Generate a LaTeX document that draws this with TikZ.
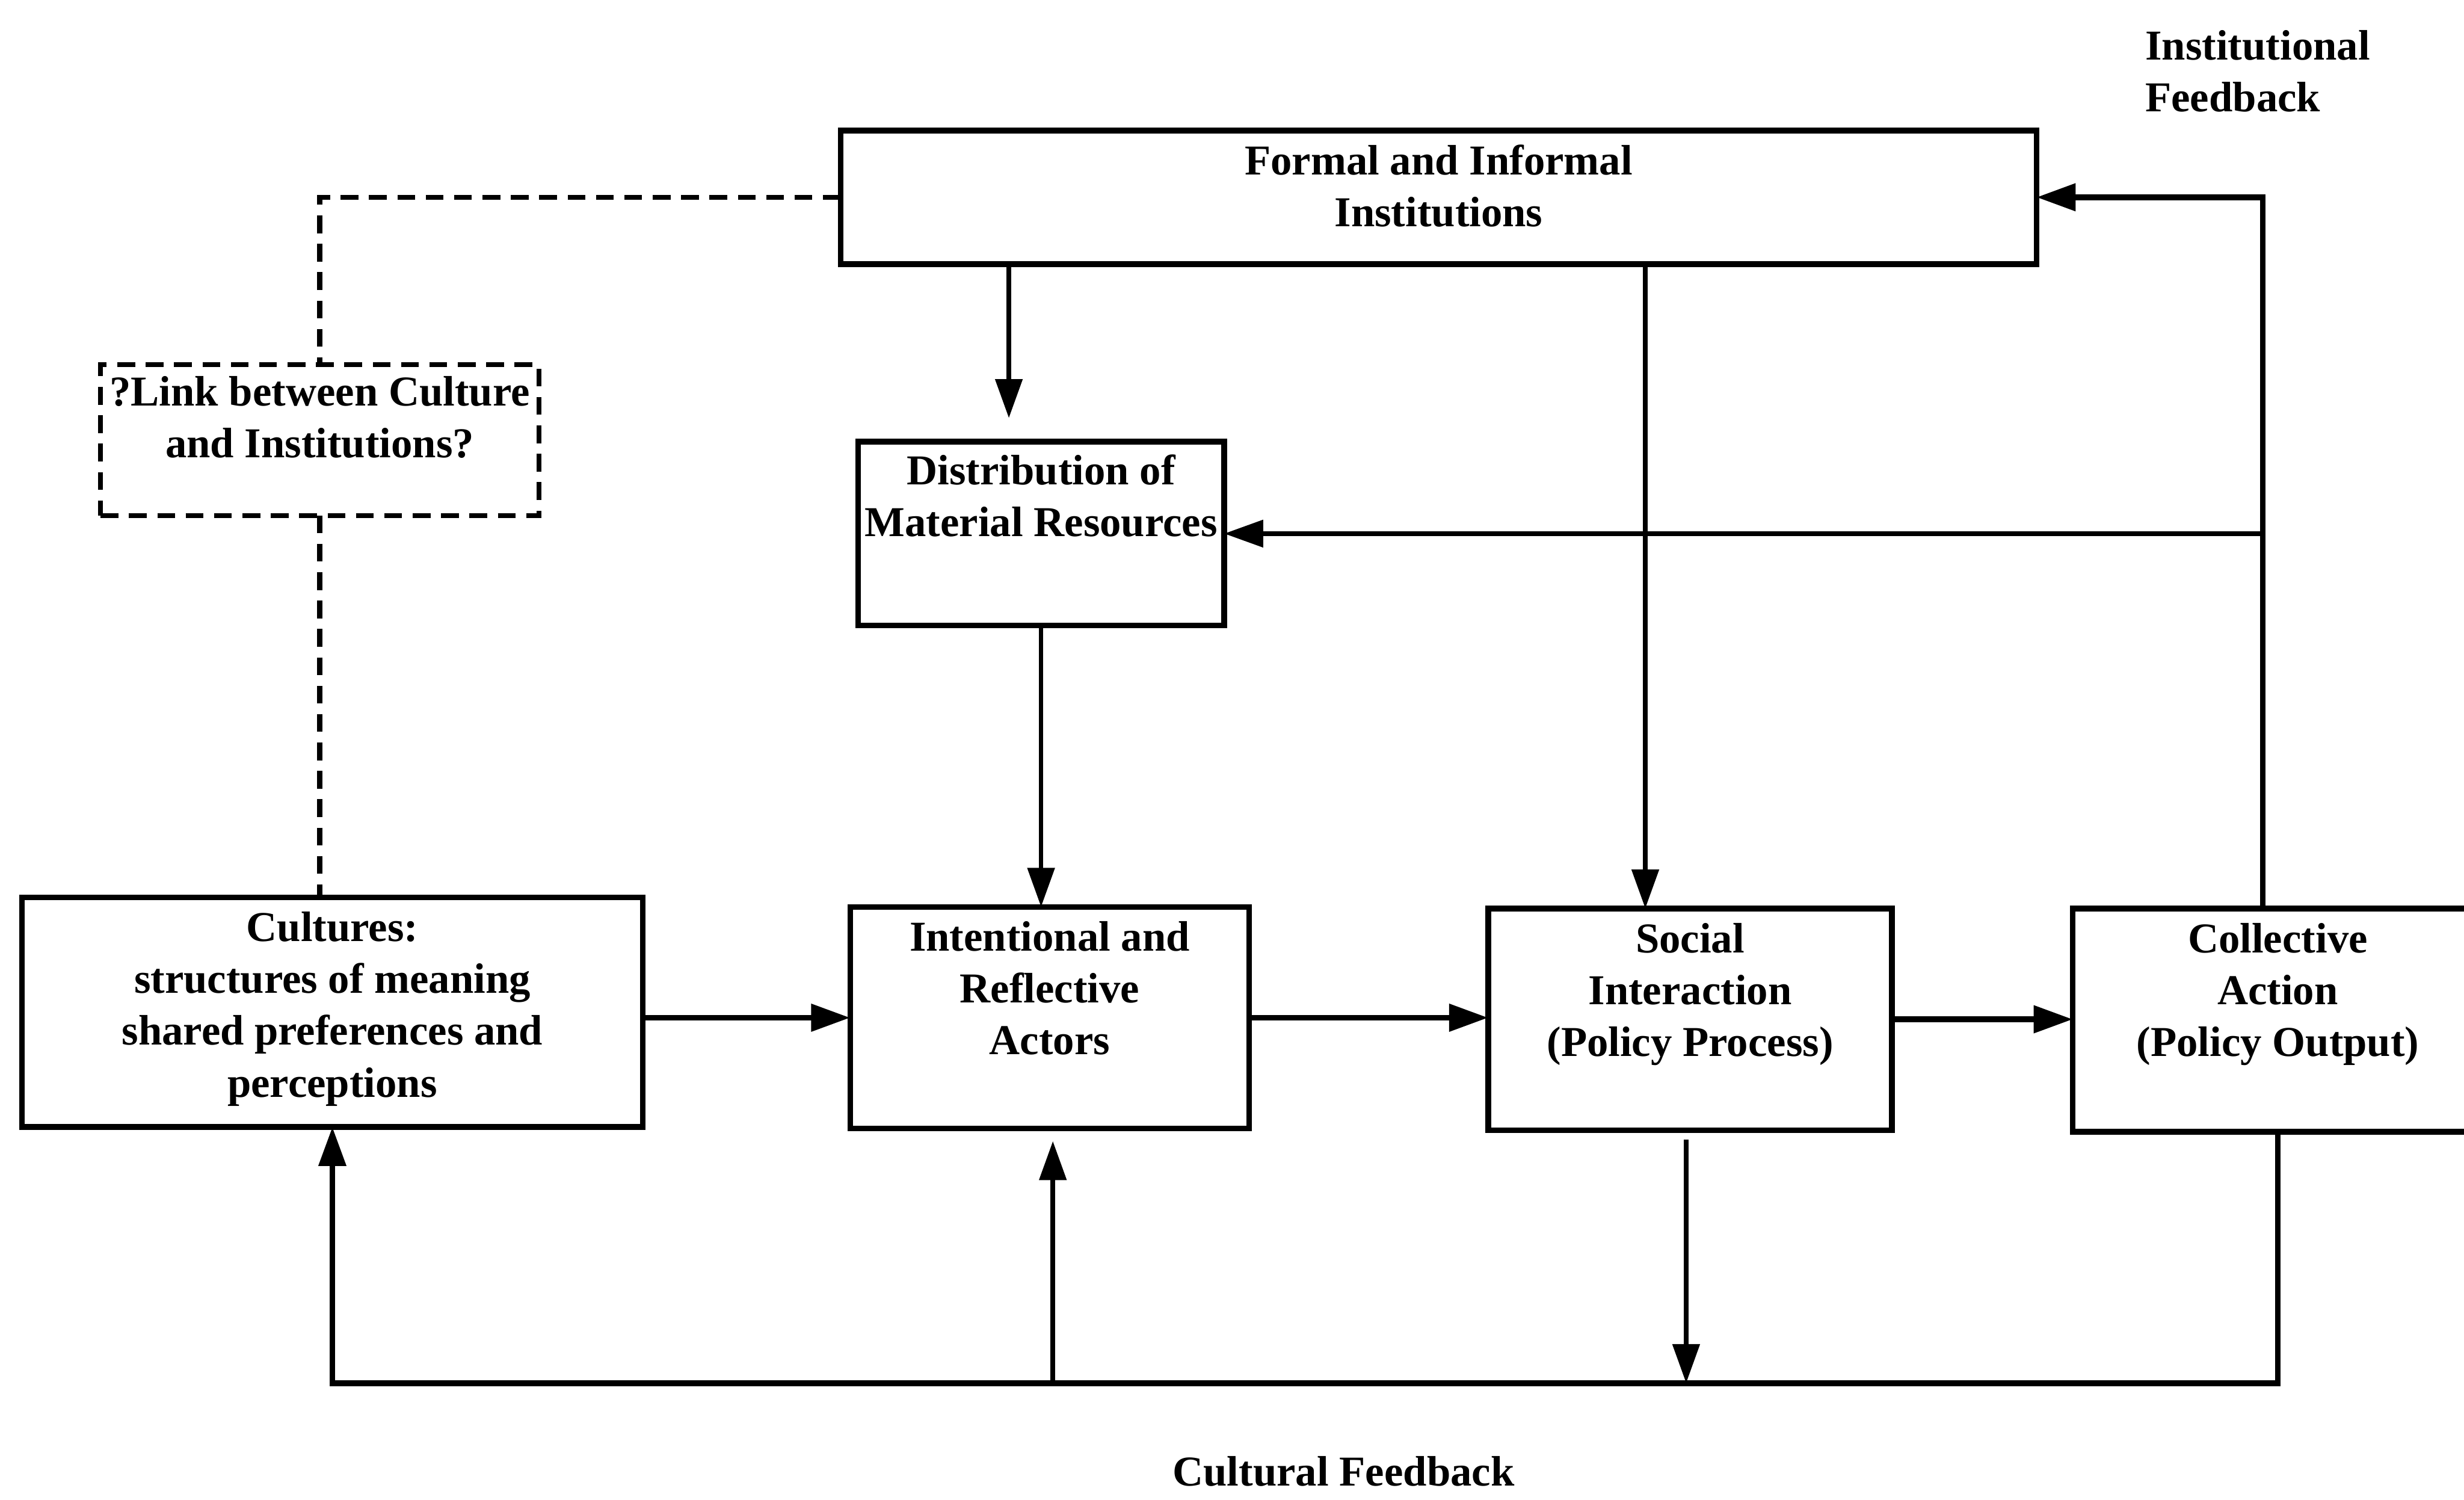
\documentclass[tikz,border=0pt]{standalone}
\usepackage{fontspec}
\setmainfont{Liberation Serif}
\usetikzlibrary{arrows.meta}
\begin{document}
\begin{tikzpicture}[x=0.03114cm,y=-0.03114cm,
  box/.style={draw,line width=3.2pt,inner sep=0pt,outer sep=0pt},
  dbox/.style={draw,line width=2.8pt,inner sep=0pt,outer sep=0pt,dash pattern=on 10pt off 6pt},
  txt/.style={font=\fontsize{24}{29.2}\selectfont\bfseries,align=center,inner sep=0pt},
  arr/.style={line width=2.6pt,-{Triangle[length=22pt,width=15pt]}},
  harr/.style={arr,line width=3.2pt},
  dlnk/.style={line width=2.8pt,dash pattern=on 10pt off 6pt}]
\useasboundingbox (0,0) rectangle (1568,954);

% boxes
\node[box,minimum width=23.70cm,minimum height=2.647cm] (form) at (915.5,125.5) {};
\node[dbox,minimum width=8.688cm,minimum height=2.989cm] (link) at (203.5,280) {};
\node[box,minimum width=7.256cm,minimum height=3.643cm] (dist) at (662.5,339.5) {};
\node[box,minimum width=12.30cm,minimum height=4.546cm] (cult) at (211.5,644) {};
\node[box,minimum width=7.910cm,minimum height=4.391cm] (act) at (668,647.5) {};
\node[box,minimum width=8.003cm,minimum height=4.391cm] (soc) at (1075.5,648.5) {};
\node[box,minimum width=8.128cm,minimum height=4.422cm] (coll) at (1449.5,649) {};

% box texts
\node[txt,anchor=north] (formT) at ([yshift=-0.28cm]form.north) {Formal and Informal\\Institutions};
\node[txt,anchor=north] (linkT) at ([yshift=-0.22cm]link.north) {?Link between Culture\\and Institutions?};
\node[txt,anchor=north] (distT) at ([yshift=-0.25cm]dist.north) {Distribution of\\Material Resources};
\node[txt,anchor=north] (cultT) at ([yshift=-0.28cm]cult.north) {Cultures:\\structures of meaning\\shared preferences and\\perceptions};
\node[txt,anchor=north] (actT) at ([yshift=-0.28cm]act.north) {Intentional and\\Reflective\\Actors};
\node[txt,anchor=north] (socT) at ([yshift=-0.28cm]soc.north) {Social\\Interaction\\(Policy Process)};
\node[txt,anchor=north] (collT) at ([yshift=-0.28cm]coll.north) {Collective\\Action\\(Policy Output)};

% feedback labels
\node[txt,align=left,anchor=north west] (instfb) at (1365,19) {Institutional\\Feedback};
\node[txt] (cultfb) at (855,936) {Cultural Feedback};

% helper points
\coordinate (fbase) at (0,880);
\coordinate (ifx) at (1440,0);
\coordinate (fdx) at (642,266);
\coordinate (fsx) at (1047,0);
\coordinate (actin) at (670,726);
\coordinate (socout) at (1073,725);

% forward links
\draw[arr] (form.south -| fdx) -- (fdx);
\draw[arr] (dist.south) -- (dist.south |- act.north);
\draw[arr] (form.south -| fsx) -- (fsx |- soc.north);
\draw[harr] (act.west -| cult.east) -- (act.west);
\draw[harr] (act.east) -- (act.east -| soc.west);
\draw[harr] (soc.east) -- (soc.east -| coll.west);

% institutional feedback
\draw[harr] (coll.north -| ifx) |- (form.east);
\draw[arr] (ifx |- dist.east) -- (dist.east);

% cultural feedback
\draw[harr] (coll.south) |- (cult.south |- fbase) -- (cult.south);
\draw[arr] (actin |- fbase) -- (actin);
\draw[arr] (socout) -- (socout |- fbase);

% culture-institution link
\draw[dlnk] (form.west) -| (link.north);
\draw[dlnk] (link.south) -- (link.south |- cult.north);
\end{tikzpicture}
\end{document}
